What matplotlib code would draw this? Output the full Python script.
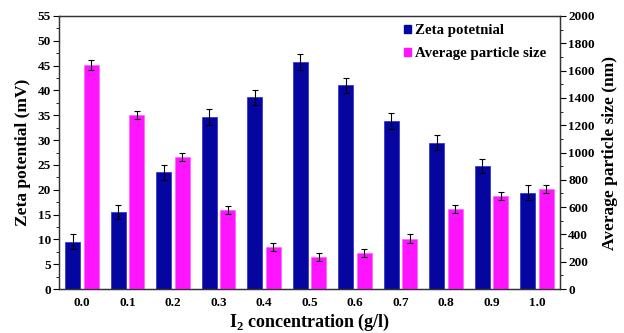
import matplotlib
matplotlib.use("Agg")
import matplotlib.pyplot as plt
import numpy as np
from matplotlib.ticker import MultipleLocator
from matplotlib.patches import Patch

# data
concentrations = ["0.0", "0.1", "0.2", "0.3", "0.4", "0.5", "0.6", "0.7", "0.8", "0.9", "1.0"]
zeta = [9.5, 15.5, 23.5, 34.6, 38.6, 45.7, 41.0, 33.8, 29.5, 24.7, 19.4]
zeta_err = [1.5, 1.4, 1.5, 1.6, 1.5, 1.6, 1.5, 1.6, 1.5, 1.4, 1.5]
particle_size = [1641, 1272, 965, 577, 305, 234, 266, 369, 588, 681, 735]
particle_err = [35, 30, 30, 28, 30, 32, 30, 32, 30, 30, 30]

BLUE = "#0505a0"
PINK = "#ff14ff"
FONT = "Liberation Serif"

plt.rcParams["font.family"] = FONT
plt.rcParams["font.weight"] = "bold"
plt.rcParams["mathtext.fontset"] = "custom"
plt.rcParams["mathtext.rm"] = "Liberation Serif:bold"
plt.rcParams["mathtext.bf"] = "Liberation Serif:bold"

fig = plt.figure(figsize=(6.24, 3.33), dpi=100)
ax = fig.add_axes([0.095, 0.132, 0.802, 0.820])
ax2 = ax.twinx()

x = np.arange(len(concentrations))
width = 0.33
offset = 0.2
err_kw = dict(ecolor="black", elinewidth=0.8, capsize=2.2, capthick=0.8)

ax.bar(x - offset, zeta, width, yerr=zeta_err, color=BLUE, edgecolor="#2a2ad0",
       linewidth=0.5, error_kw=err_kw, zorder=2)
ax2.bar(x + offset, particle_size, width, yerr=particle_err, color=PINK, edgecolor="#ff60ff",
        linewidth=0.5, error_kw=err_kw, zorder=2)

ax.set_xlim(-0.5, len(concentrations) - 0.5)
ax.set_ylim(0, 55)
ax2.set_ylim(0, 2000)

ax.set_xticks(x)
ax.set_xticklabels(concentrations)
ax.yaxis.set_major_locator(MultipleLocator(5))
ax.yaxis.set_minor_locator(MultipleLocator(2.5))
ax2.yaxis.set_major_locator(MultipleLocator(200))
ax2.yaxis.set_minor_locator(MultipleLocator(100))

ax.tick_params(axis="x", length=0, labelsize=9.5, pad=6)
ax.tick_params(axis="y", which="major", length=4, labelsize=9.5, direction="out", pad=2)
ax.tick_params(axis="y", which="minor", length=2.5, direction="out")
ax2.tick_params(axis="y", which="major", length=4, labelsize=9.5, direction="out", pad=2)
ax2.tick_params(axis="y", which="minor", length=2.5, direction="out")

for a in (ax, ax2):
    for sp in a.spines.values():
        sp.set_color("#333333")
        sp.set_linewidth(0.9)

ax.set_xlabel("I$_{2}$ concentration (g/l)", fontsize=13, fontweight="bold", labelpad=2)
ax.set_ylabel("Zeta potential (mV)", fontsize=12.5, fontweight="bold", labelpad=5)
ax2.set_ylabel("Average particle size (nm)", fontsize=12.5, fontweight="bold", labelpad=5)

handles = [Patch(color=BLUE, label="Zeta potetnial"),
           Patch(color=PINK, label="Average particle size")]
ax.legend(handles=handles, loc="upper right", frameon=False, fontsize=10.7,
          handlelength=0.45, handleheight=0.45, handletextpad=0.3,
          labelspacing=0.7, borderaxespad=0.5, bbox_to_anchor=(1.0, 1.02))

fig.savefig("out.png", dpi=100)
